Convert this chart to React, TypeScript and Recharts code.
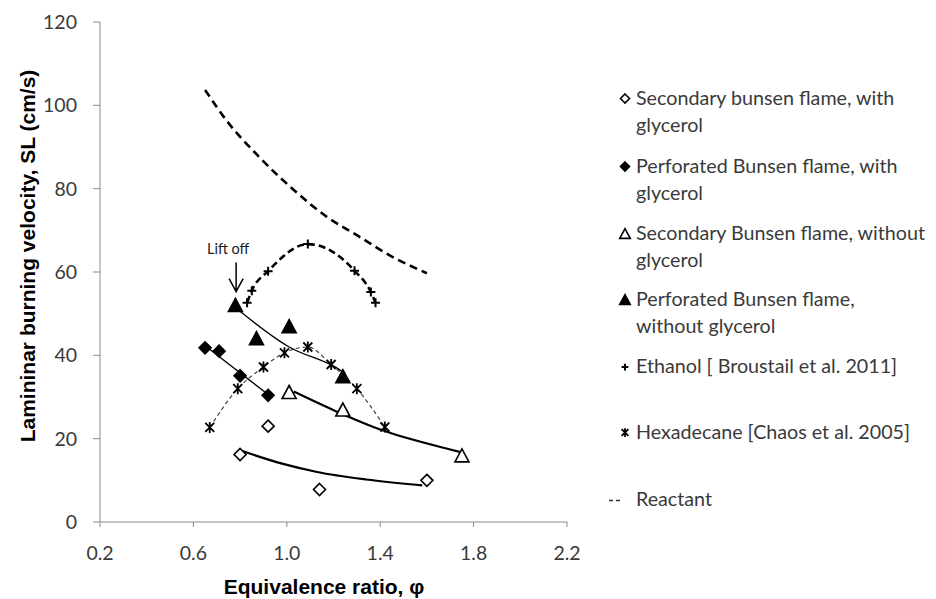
import {
  ComposedChart,
  Label,
  Legend,
  Line,
  ReferenceDot,
  Scatter,
  XAxis,
  YAxis
} from 'recharts';

// equivalence ratio / burning velocity (cm/s)
const secGlyX = [0.8, 0.92, 1.14, 1.6];
const secGlyY = [16.2, 23.0, 7.8, 10.0];
const perfGlyX = [0.65, 0.71, 0.8, 0.92];
const perfGlyY = [41.8, 41.0, 35.1, 30.4];
const secNoGlyX = [1.01, 1.24, 1.75];
const secNoGlyY = [31.2, 27.0, 16.0];
const perfNoGlyX = [0.78, 0.87, 1.01, 1.24];
const perfNoGlyY = [52.1, 44.1, 47.0, 35.0];
const ethanolX = [0.83, 0.85, 0.92, 1.09, 1.29, 1.36, 1.38];
const ethanolY = [52.6, 55.5, 60.2, 66.7, 60.3, 55.2, 52.6];
const hexadecaneX = [0.67, 0.79, 0.9, 0.99, 1.09, 1.19, 1.3, 1.42];
const hexadecaneY = [22.7, 32.0, 37.2, 40.6, 42.0, 37.8, 32.0, 22.8];
const reactantX = [0.65, 0.74, 0.88, 1.03, 1.17, 1.31, 1.45, 1.6];
const reactantY = [103.7, 96.5, 87.7, 79.7, 73.3, 68.5, 63.7, 59.7];

// trendlines
const secGlyFitX = [0.8, 0.98, 1.13, 1.34, 1.58];
const secGlyFitY = [17.2, 14.0, 12.0, 10.2, 8.8];
const perfGlyFitX = [0.65, 0.92];
const perfGlyFitY = [42.3, 30.6];
const secNoGlyFitX = [1.03, 1.21, 1.41, 1.7, 1.75];
const secNoGlyFitY = [31.3, 26.6, 22.0, 17.4, 16.7];
const perfNoGlyFitX = [0.79, 1.01, 1.21, 1.25];
const perfNoGlyFitY = [51.0, 42.0, 37.1, 35.7];

const xTicks = [0.2, 0.6, 1.0, 1.4, 1.8, 2.2];
const yTicks = [0, 20, 40, 60, 80, 100, 120];

const legendItems = [
  { key: 'openDiamond', lines: ['Secondary bunsen flame, with', 'glycerol'] },
  { key: 'diamond', lines: ['Perforated Bunsen flame, with', 'glycerol'] },
  { key: 'openTriangle', lines: ['Secondary Bunsen flame, without', 'glycerol'] },
  { key: 'triangle', lines: ['Perforated Bunsen flame,', 'without glycerol'] },
  { key: 'plus', lines: ['Ethanol [ Broustail et al. 2011]'] },
  { key: 'star', lines: ['Hexadecane [Chaos et al. 2005]'] },
  { key: 'dash', lines: ['Reactant'] }
];
const legendTops = [5, 73, 140, 206, 273, 339, 406];

const zip = (xs: number[], ys: number[]) => xs.map((x, i) => ({ x, y: ys[i] }));

const TICK_FONT = 'Lato, "Open Sans", sans-serif';

function Marker({ kind, cx, cy, s = 1 }: { kind: string; cx: number; cy: number; s?: number }) {
  if (kind === 'openDiamond' || kind === 'diamond') {
    const r = 6 * s;
    return (
      <path
        d={`M${cx},${cy - r}L${cx + r},${cy}L${cx},${cy + r}L${cx - r},${cy}Z`}
        fill={kind === 'diamond' ? '#000' : '#fff'}
        stroke="#000"
        strokeWidth={1.6}
      />
    );
  }
  if (kind === 'openTriangle' || kind === 'triangle') {
    const w = 7 * s;
    const h = 6.5 * s;
    return (
      <path
        d={`M${cx},${cy - h}L${cx + w},${cy + h}L${cx - w},${cy + h}Z`}
        fill={kind === 'triangle' ? '#000' : '#fff'}
        stroke="#000"
        strokeWidth={1.6}
        strokeLinejoin="miter"
      />
    );
  }
  if (kind === 'plus') {
    const r = 4.5 * s;
    return (
      <path d={`M${cx - r},${cy}H${cx + r}M${cx},${cy - r}V${cy + r}`} stroke="#000" strokeWidth={2} />
    );
  }
  if (kind === 'star') {
    const r = 4.5 * s;
    return (
      <path
        d={`M${cx - r},${cy - r}L${cx + r},${cy + r}M${cx + r},${cy - r}L${cx - r},${cy + r}M${cx},${cy - r - 1}V${cy + r + 1}`}
        stroke="#000"
        strokeWidth={1.8}
      />
    );
  }
  return null;
}

const shapeOf = (kind: string) => (props: any) => <Marker kind={kind} cx={props.cx} cy={props.cy} />;

function LegendBox() {
  return (
    <div style={{ position: 'relative', width: 336, height: 440, fontFamily: TICK_FONT, color: '#3a3a3a' }}>
      {legendItems.map((item, i) => (
        <div key={item.key} style={{ position: 'absolute', left: 0, top: legendTops[i] }}>
          <svg width={34} height={27} style={{ position: 'absolute', left: 0, top: 0 }}>
            {item.key === 'dash' ? (
              <path d="M9,14.5H13M16,14.5H20" stroke="#333" strokeWidth={1.3} />
            ) : (
              <Marker kind={item.key} cx={25} cy={item.key === 'plus' ? 14 : 13.5} s={0.75} />
            )}
          </svg>
          <div style={{ position: 'absolute', left: 36, top: 0, fontSize: 19.7, lineHeight: '26.7px', whiteSpace: 'nowrap' }}>
            {item.lines.map((l) => (
              <div key={l}>{l}</div>
            ))}
          </div>
        </div>
      ))}
    </div>
  );
}

function LiftOff(props: any) {
  const { cx, cy } = props;
  return (
    <g>
      <text x={cx - 8} y={cy - 38} textAnchor="middle" fontFamily={TICK_FONT} fontSize={14.5} fill="#222">
        Lift off
      </text>
      <path d={`M${cx},${cy - 29}V${cy}M${cx - 7},${cy - 13}L${cx},${cy}L${cx + 7},${cy - 13}`} stroke="#000" strokeWidth={1.5} fill="none" />
    </g>
  );
}

export default function App() {
  return (
    <div style={{ position: 'absolute', left: 0, top: 0, width: 936, height: 599, background: '#fff' }}>
      <ComposedChart width={936} height={599} margin={{ top: 22, right: 369, bottom: 0, left: 0 }}>
        <XAxis
          type="number"
          dataKey="x"
          domain={[0.2, 2.2]}
          ticks={xTicks}
          tickFormatter={(v: number) => v.toFixed(1)}
          height={77}
          stroke="#8a8a8a"
          tickSize={5}
          tickMargin={19}
          tick={{ fill: '#3a3a3a', fontSize: 19.5, fontFamily: TICK_FONT }}
          allowDataOverflow
        >
          <Label
            content={(p: any) => (
              <text
                x={p.viewBox.x + 224}
                y={p.viewBox.y + 72}
                textAnchor="middle"
                fontFamily='"Liberation Sans", Arial, sans-serif'
                fontWeight="bold"
                fontSize={21}
                fill="#000"
              >
                Equivalence ratio, φ
              </text>
            )}
          />
        </XAxis>
        <YAxis
          type="number"
          dataKey="y"
          domain={[0, 120]}
          ticks={yTicks}
          width={100}
          stroke="#8a8a8a"
          tickSize={7}
          tickMargin={16}
          tick={{ fill: '#3a3a3a', fontSize: 19.5, fontFamily: TICK_FONT }}
          allowDataOverflow
        >
          <Label
            content={() => (
              <text
                x={35}
                y={256}
                transform="rotate(-90 35 256)"
                textAnchor="middle"
                fontFamily='"Liberation Sans", Arial, sans-serif'
                fontWeight="bold"
                fontSize={21}
                fill="#000"
              >
                Lamininar burning velocity, SL (cm/s)
              </text>
            )}
          />
        </YAxis>
        <Legend
          layout="vertical"
          align="center"
          verticalAlign="middle"
          content={() => <LegendBox />}
          wrapperStyle={{ left: 600, top: 80, width: 336, height: 440 }}
        />

        <Line data={zip(reactantX, reactantY)} dataKey="y" type="monotone" stroke="#000" strokeWidth={2.6} strokeDasharray="8 5" dot={false} isAnimationActive={false} legendType="none" />
        <Line data={zip(ethanolX, ethanolY)} dataKey="y" type="monotone" stroke="#000" strokeWidth={2.6} strokeDasharray="7 4" dot={false} isAnimationActive={false} legendType="none" />
        <Line data={zip(hexadecaneX, hexadecaneY)} dataKey="y" type="monotone" stroke="#444" strokeWidth={1.2} strokeDasharray="4 3" dot={false} isAnimationActive={false} legendType="none" />
        <Line data={zip(secGlyFitX, secGlyFitY)} dataKey="y" type="monotone" stroke="#000" strokeWidth={2.2} dot={false} isAnimationActive={false} legendType="none" />
        <Line data={zip(perfGlyFitX, perfGlyFitY)} dataKey="y" type="monotone" stroke="#000" strokeWidth={1.3} dot={false} isAnimationActive={false} legendType="none" />
        <Line data={zip(secNoGlyFitX, secNoGlyFitY)} dataKey="y" type="monotone" stroke="#000" strokeWidth={2.2} dot={false} isAnimationActive={false} legendType="none" />
        <Line data={zip(perfNoGlyFitX, perfNoGlyFitY)} dataKey="y" type="monotone" stroke="#000" strokeWidth={1.3} dot={false} isAnimationActive={false} legendType="none" />

        <Scatter data={zip(secGlyX, secGlyY)} dataKey="y" shape={shapeOf('openDiamond')} isAnimationActive={false} legendType="none" />
        <Scatter data={zip(perfGlyX, perfGlyY)} dataKey="y" shape={shapeOf('diamond')} isAnimationActive={false} legendType="none" />
        <Scatter data={zip(secNoGlyX, secNoGlyY)} dataKey="y" shape={shapeOf('openTriangle')} isAnimationActive={false} legendType="none" />
        <Scatter data={zip(perfNoGlyX, perfNoGlyY)} dataKey="y" shape={shapeOf('triangle')} isAnimationActive={false} legendType="none" />
        <Scatter data={zip(ethanolX, ethanolY)} dataKey="y" shape={shapeOf('plus')} isAnimationActive={false} legendType="none" />
        <Scatter data={zip(hexadecaneX, hexadecaneY)} dataKey="y" shape={shapeOf('star')} isAnimationActive={false} legendType="none" />

        <ReferenceDot x={0.783} y={55.3} r={0} shape={LiftOff} ifOverflow="visible" />
      </ComposedChart>
    </div>
  );
}
